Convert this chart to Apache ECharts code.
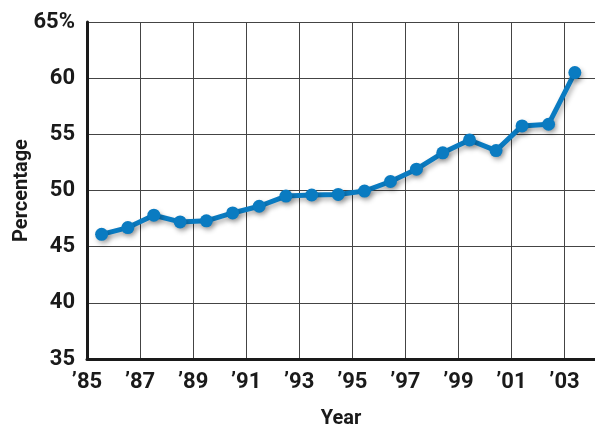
<!DOCTYPE html>
<html>
<head>
<meta charset="utf-8">
<script src="https://cdn.jsdelivr.net/npm/echarts@6/dist/echarts.min.js"></script>
<style>
  html, body { margin: 0; padding: 0; background: #fff; }
  #chart { width: 595px; height: 427px; }
</style>
</head>
<body>
<div id="chart"></div>
<script>
// values (x = position in the year, y = percentage)
var xYears = [1985.55, 1986.54, 1987.52, 1988.51, 1989.5, 1990.49, 1991.49, 1992.5, 1993.47,
  1994.47, 1995.46, 1996.44, 1997.42, 1998.41, 1999.42, 2000.42, 2001.4, 2002.4, 2003.39];
var percent = [46.1, 46.7, 47.8, 47.2, 47.3, 48.0, 48.6, 49.5, 49.6,
  49.65, 49.95, 50.8, 51.9, 53.35, 54.5, 53.55, 55.75, 55.9, 60.5];
var xTicks = [1985, 1987, 1989, 1991, 1993, 1995, 1997, 1999, 2001, 2003];

var font = "Roboto, 'Liberation Sans', sans-serif";

var chart = echarts.init(document.getElementById("chart"));

var points = xYears.map(function (x, i) { return [x, percent[i]]; });

chart.setOption({
  animation: false,
  grid: { left: 87, top: 22, right: 0, bottom: 68, containLabel: false, outerBoundsMode: "none" },
  xAxis: {
    type: "value",
    min: 1985,
    max: 2004.15,
    interval: 2,
    name: "Year",
    nameLocation: "middle",
    nameGap: 50,
    nameMoveOverlap: false,
    nameTextStyle: { fontFamily: font, fontWeight: "bold", fontSize: 20, color: "#1a1a1a" },
    axisLine: { show: true, lineStyle: { color: "#1a1a1a", width: 3 } },
    axisTick: { show: false },
    axisLabel: {
      margin: 12,
      fontFamily: font, fontWeight: "bold", fontSize: 22, color: "#1a1a1a",
      formatter: function (v) {
        if (xTicks.indexOf(v) < 0) return "";
        return "\u2019" + String(v).slice(2);
      }
    },
    splitLine: { show: true, lineStyle: { color: "#444", width: 1 } }
  },
  yAxis: {
    type: "value",
    min: 35,
    max: 65,
    interval: 5,
    name: "Percentage",
    nameLocation: "middle",
    nameGap: 55,
    nameMoveOverlap: false,
    nameRotate: 90,
    nameTextStyle: { fontFamily: font, fontWeight: "bold", fontSize: 20, color: "#1a1a1a" },
    axisLine: { show: true, lineStyle: { color: "#1a1a1a", width: 3 } },
    axisTick: { show: false },
    axisLabel: {
      margin: 12,
      fontFamily: font, fontWeight: "bold", fontSize: 22, color: "#1a1a1a",
      formatter: function (v) { return v === 65 ? "65%" : String(v); }
    },
    splitLine: { show: true, lineStyle: { color: "#444", width: 1 } }
  },
  series: [
    {
      type: "line",
      data: points,
      symbol: "circle",
      symbolSize: 13,
      lineStyle: {
        color: "#0a7bc1", width: 5,
        shadowColor: "rgba(0,0,0,0.3)", shadowBlur: 5, shadowOffsetX: 2, shadowOffsetY: 3
      },
      itemStyle: {
        color: "#0a7bc1",
        shadowColor: "rgba(0,0,0,0.3)", shadowBlur: 5, shadowOffsetX: 2, shadowOffsetY: 3
      }
    }
  ]
});
</script>
</body>
</html>
